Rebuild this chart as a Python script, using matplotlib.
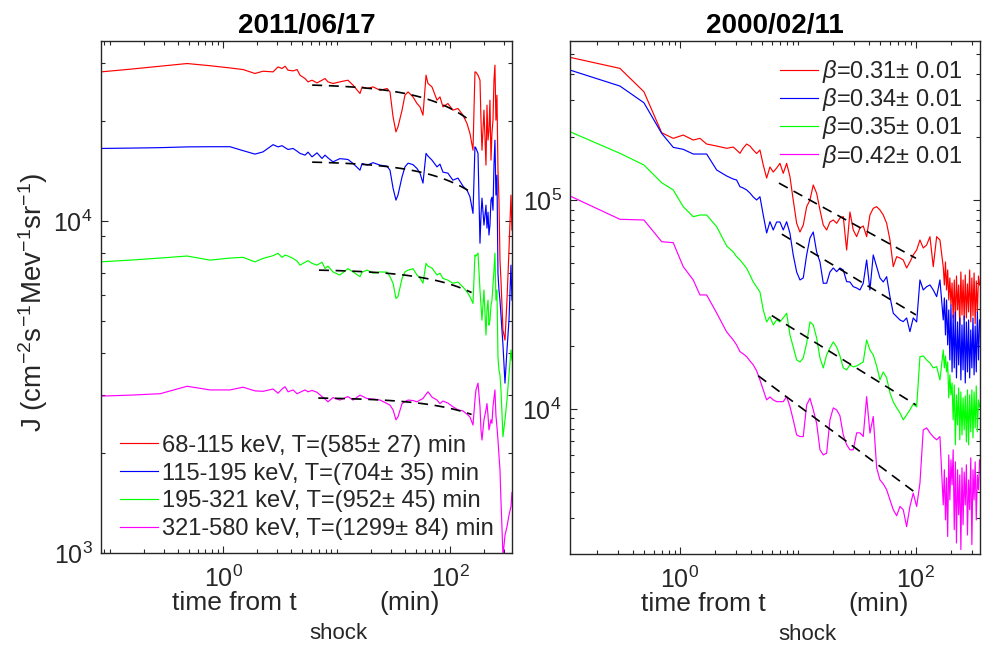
import numpy as np
import matplotlib
matplotlib.use("Agg")
import matplotlib.pyplot as plt
from matplotlib.ticker import FixedLocator, LogLocator, NullFormatter, LogFormatterSciNotation

plt.rcParams['font.family'] = ['Liberation Sans', 'DejaVu Sans']
plt.rcParams['mathtext.fontset'] = 'custom'
plt.rcParams['mathtext.rm'] = 'Liberation Sans'
plt.rcParams['mathtext.it'] = 'Liberation Sans:italic'
plt.rcParams['mathtext.bf'] = 'Liberation Sans:bold'

# ---------------- data: left panel (2011/06/17) ----------------
t_left = [0.084, 0.152, 0.279, 0.482, 0.768, 1.15, 1.50, 1.91, 2.25, 2.76,
          3.05, 3.31, 3.52, 3.74, 4.14, 4.49, 4.77, 5.28, 5.61, 6.08,
          6.73, 7.45, 7.92, 8.41, 9.31, 10.7, 12.6, 14.0, 16.1, 16.8,
          18.6, 21.0, 24.2, 27.9, 29.6, 31.5, 33.4, 34.8, 37.8, 40.1,
          42.7, 47.2, 51.2, 54.4, 57.8, 61.5, 64.0, 69.4, 76.8, 81.6,
          86.7, 95.9, 106, 117.6, 130.2, 141.2, 150, 159.5, 166, 169.4,
          176.6, 183.8, 187.6, 191.4, 199.3, 207.6, 211.9, 216.3, 220.6, 225,
          229.8, 234.4, 239.3, 244.2, 249, 254, 259.4, 264.8, 270.2, 275.8,
          281.4, 293.1, 305.3, 317.9, 331.1, 344.7, 351.8]

J_left_68 = [28170, 28700, 29300, 29850, 29400, 28950, 28630, 27860, 28300, 28170,
             29160, 28840, 29300, 28500, 28360, 28630, 27530, 26900, 26280, 26590,
             26100, 26590, 26900, 26280, 25990, 26280, 26590, 25680, 24250, 25380,
             25100, 25380, 24800, 25100, 24520, 20620, 18580, 19230, 21600, 23960,
             24520, 23680, 22620, 22100, 20860, 27530, 25990, 25380, 23150, 23680,
             22100, 22620, 21600, 21850, 20860, 19690, 18370, 16360, 28170, 28110,
             27530, 26590, 20150, 16360, 21600, 14750, 22360, 17540, 18800, 23150,
             15270, 18410, 20150, 26590, 29510, 20150, 23960, 14240, 11570, 7630,
             6640, 4695, 4380, 5780, 8180, 11980, 9400]
J_left_115 = [16560, 16600, 16650, 16740, 16760, 16760, 16310, 15920, 16170, 17000,
              16740, 16880, 16650, 16440, 16560, 16250, 16000, 15810, 16140, 15620,
              16060, 15450, 15810, 15510, 15090, 15430, 15340, 14920, 14240, 14920,
              14750, 15000, 14750, 14640, 14240, 12570, 11570, 11980, 13600, 14570,
              14950, 14800, 14410, 13950, 13020, 16000, 15700, 15270, 14570, 14850,
              14050, 13950, 13290, 13480, 12750, 12400, 11840, 10550, 16740, 16600,
              16000, 8580, 10420, 11730, 9730, 11170, 9530, 10640, 9080, 9730,
              11570, 11810, 10790, 14750, 17540, 11980, 13760, 6970, 6200, 5780,
              5210, 4230, 3250, 4090, 5030, 7370, 5780]
J_left_195 = [7540, 7630, 7740, 7850, 7630, 7740, 7780, 7540, 7720, 7870,
              8000, 7780, 7900, 7850, 7720, 7580, 7370, 7520, 7600, 7460,
              7370, 7520, 7200, 7320, 7030, 6880, 7190, 7030, 6800, 7020,
              7120, 6970, 7030, 7020, 6800, 6500, 5850, 5920, 6720, 7030,
              7120, 7190, 6880, 6740, 6500, 7460, 7320, 7220, 6880, 6970,
              6720, 6640, 6500, 6550, 6330, 6120, 5920, 5650, 7900, 7850,
              8010, 6200, 5580, 5030, 6200, 4540, 5390, 5780, 4860, 5030,
              5580, 5780, 6420, 7120, 8010, 5780, 6200, 3890, 3560, 3440,
              3100, 2240, 2520, 2890, 3440, 4090, 3810]
J_left_321 = [2970, 2990, 3020, 3180, 3100, 3100, 3160, 3080, 3070, 3120,
              3030, 3120, 3170, 3060, 3100, 3020, 3050, 3100, 3060, 3090,
              3050, 2960, 2910, 2855, 2940, 2890, 2960, 2890, 2990, 2970,
              2920, 2910, 2890, 2820, 2790, 2700, 2520, 2570, 2820, 2860,
              2890, 2880, 2855, 2890, 2920, 3010, 3060, 2950, 2890, 2820,
              2870, 2830, 2760, 2700, 2680, 2620, 2570, 2430, 2890, 3100,
              3250, 2760, 2350, 2190, 2520, 2700, 2820, 2600, 2350, 2430,
              2520, 2460, 2760, 2930, 3100, 2600, 2400, 2190, 1970, 1780,
              1440, 980, 1130, 1200, 1300, 1380, 1520]

labels_left = ['68-115 keV, T=(585\u00b1 27) min',
               '115-195 keV, T=(704\u00b1 35) min',
               '195-321 keV, T=(952\u00b1 45) min',
               '321-580 keV, T=(1299\u00b1 84) min']
# exponential fits  J = A exp(-t/T)
fit_A_left = [25970, 15190, 7170, 2946]
fit_T_left = [585, 704, 952, 1299]
fit_t0_left = [6.1, 6.1, 7.0, 6.9]
fit_t1_left = [155, 155, 155, 155]

# ---------------- data: right panel (2000/02/11) ----------------
t_right = [0.117, 0.310, 0.495, 0.700, 0.877, 1.066, 1.296, 1.477, 1.684, 2.047,
           2.488, 2.83, 3.02, 3.225, 3.44, 3.675, 3.92, 4.18, 4.467, 4.764,
           5.08, 5.43, 5.79, 6.177, 6.60, 7.04, 7.507, 8.02, 8.555, 9.12,
           9.75, 10.40, 11.09, 11.85, 12.64, 13.48, 14.40, 15.37, 16.39, 17.51,
           18.67, 19.92, 21.28, 22.70, 24.21, 25.86, 27.59, 29.42, 31.44, 33.53,
           35.76, 38.21, 40.74, 43.46, 46.45, 49.55, 52.84, 56.46, 60.22, 64.22,
           68.63, 73.19, 78.06, 83.37, 88.92, 94.85, 101.4, 108.1, 115.3, 123.2,
           131.4, 140.2, 149.8, 159.7,
           170.4, 174.1, 177.9, 181.7, 185.7, 189.7, 193.8, 198.0, 202.3, 206.7,
           211.2, 215.8, 220.5, 225.3, 230.2, 235.2, 240.3, 245.5, 250.8, 256.3,
           261.8, 267.5, 273.3, 279.2, 285.3, 291.5, 297.8, 304.3, 310.9, 317.6,
           324.5, 331.6, 338.8, 346.1]

J_right_1 = [481800, 426700, 329800, 209900, 197300, 204600, 193700, 197300, 185300, 181300,
             176800, 179300, 173500, 167300, 177400, 185300, 181300, 173500, 166900, 173500,
             147100, 127400, 143900, 136100, 142300, 149800, 134200, 149800, 129300, 100000,
             77360, 70280, 75890, 92890, 100000, 118000, 107700, 89570, 75890, 71850,
             78480, 80230, 77360, 82010, 83200, 57630, 87620, 71850, 66760, 73480,
             75110, 66760, 84760, 91260, 92890, 89570, 84760, 77360, 64360, 47970,
             53540, 52780, 51630, 47280, 50500, 54550, 57630, 64360, 58920, 60900,
             66760, 47970, 66760, 64360,
             47790, 39200, 50500, 37100, 46250, 33230, 42340, 31450, 40090, 27260,
             41430, 26080, 43280, 29770, 39200, 25230, 45230, 28170, 41430, 26660,
             43760, 27260, 39650, 29110, 46250, 26080, 42340, 27860, 44740, 25510,
             40980, 28790, 43280, 39200]
J_right_2 = [418800, 351200, 292100, 208500, 178700, 174800, 166000, 166000, 166000, 139200,
             130300, 126000, 124700, 115800, 114100, 111700, 108000, 103400, 100000, 103700,
             84760, 69520, 78730, 71850, 78480, 78480, 71850, 78730, 69290, 54550,
             45230, 41430, 42340, 54550, 65790, 70280, 56380, 50500, 39950, 39950,
             45230, 47280, 45380, 47280, 46250, 40660, 40520, 38470, 37920, 37100,
             39950, 51630, 37100, 54550, 47970, 42340, 40520, 42950, 34460, 28700,
             27640, 26660, 26170, 27260, 23430, 27260, 26080, 41430, 37100, 38470,
             39200, 37100, 34460, 41430,
             26660, 33980, 22590, 33230, 20240, 29770, 17150, 31450, 15030, 28170,
             15710, 29110, 14070, 26080, 16240, 27260, 13760, 25230, 15370, 27860,
             13310, 26080, 15030, 26660, 14070, 23880, 15710, 27260, 14550, 24950,
             15030, 29110, 17150, 26660]
J_right_3 = [212200, 167300, 147100, 121000, 111700, 92890, 83200, 84760, 84760, 74510,
             60240, 56380, 53540, 51630, 49410, 47120, 43760, 40520, 38350, 36280,
             29770, 26080, 27640, 25230, 26660, 26080, 27260, 28700, 22590, 19800,
             17150, 16780, 17540, 20620, 26080, 25230, 21860, 17540, 15710, 18130,
             19580, 20920, 19800, 17930, 15710, 15370, 16240, 15890, 16060, 16420,
             16780, 21380, 19150, 18130, 16060, 13760, 15030, 14070, 11930, 10800,
             10110, 9570, 8860, 9360, 9890, 10570, 10220, 17790, 17930, 17150,
             16600, 15710, 15940, 13760,
             19150, 15710, 17930, 15030, 16780, 11290, 14550, 11670, 13310, 8860,
             13020, 6730, 11670, 8380, 12600, 7110, 12060, 7510, 11290, 7930,
             11540, 6950, 12330, 6730, 11670, 7760, 12330, 7270, 12060, 8110,
             12880, 7760, 11040, 10220]
J_right_4 = [104500, 80850, 80230, 63160, 62460, 47970, 41430, 35110, 35110, 28790,
             23350, 21380, 20240, 18800, 18330, 17790, 16970, 16240, 15200, 13760,
             12330, 11040, 11410, 11040, 10830, 10830, 10830, 11450, 10260, 8860,
             7510, 7370, 7370, 10450, 11250, 9890, 8540, 6370, 6020, 6140,
             8860, 10110, 9890, 9260, 7510, 6730, 6370, 6370, 7680, 7680,
             7370, 11450, 7660, 9190, 5220, 4570, 4380, 4100, 3670, 3290,
             3080, 3410, 3290, 2730, 3410, 3950, 3410, 4410, 7930, 8110,
             7680, 7350, 7110, 7370,
             3470, 5110, 2940, 4680, 2450, 6020, 3670, 5700, 4330, 6370,
             2640, 5580, 2280, 5110, 3110, 4830, 2120, 5220, 2790, 4990,
             3470, 5400, 2490, 4570, 3290, 5830, 2240, 5110, 3670, 5580,
             2940, 4830, 4100, 5700]

labels_right = [r'$\beta$=0.31' + '\u00b1 0.01',
                r'$\beta$=0.34' + '\u00b1 0.01',
                r'$\beta$=0.35' + '\u00b1 0.01',
                r'$\beta$=0.42' + '\u00b1 0.01']
# power-law fits  J = A t^-beta
fit_A_right = [219300, 134900, 52380, 27360]
fit_beta_right = [0.31, 0.34, 0.35, 0.42]
fit_t0_right = [6.9, 7.3, 6.0, 4.6]
fit_t1_right = [100, 100, 100, 100]

colors = ['#ff0000', '#0000ff', '#00ff00', '#ff00ff']
dark = '#262626'

fig = plt.figure(figsize=(9.82, 6.45), dpi=100)
ax1 = fig.add_axes([101/982, 1-553/645, 411/982, 512/645])
ax2 = fig.add_axes([570/982, 1-554/645, 410/982, 513/645])

lw = 0.85
series_left = [J_left_68, J_left_115, J_left_195, J_left_321]
for J, c, lab in zip(series_left, colors, labels_left):
    ax1.plot(t_left, J, color=c, lw=lw, label=lab)
for A, T, t0, t1 in zip(fit_A_left, fit_T_left, fit_t0_left, fit_t1_left):
    tt = np.logspace(np.log10(t0), np.log10(t1), 100)
    ax1.plot(tt, A*np.exp(-tt/T), color='k', lw=1.2, ls=(0, (6, 4)))

series_right = [J_right_1, J_right_2, J_right_3, J_right_4]
for J, c, lab in zip(series_right, colors, labels_right):
    ax2.plot(t_right, J, color=c, lw=lw, label=lab)
for A, b, t0, t1 in zip(fit_A_right, fit_beta_right, fit_t0_right, fit_t1_right):
    tt = np.array([t0, t1])
    ax2.plot(tt, A*tt**(-b), color='k', lw=1.2, ls=(0, (6, 4)))

ax1.set_xlim(0.084, 352)
ax1.set_ylim(1000, 34900)
ax2.set_xlim(0.117, 349)
ax2.set_ylim(2020, 5.77e5)

for ax, yt in ((ax1, [1e3, 1e4]), (ax2, [1e4, 1e5])):
    ax.set_xscale('log')
    ax.set_yscale('log')
    ax.xaxis.set_major_locator(FixedLocator([1, 100]))
    ax.xaxis.set_minor_locator(LogLocator(base=10, subs=np.arange(1, 10), numticks=50))
    ax.yaxis.set_major_locator(FixedLocator(yt))
    ax.yaxis.set_minor_locator(LogLocator(base=10, subs=np.arange(1, 10), numticks=50))
    ax.xaxis.set_major_formatter(LogFormatterSciNotation())
    ax.yaxis.set_major_formatter(LogFormatterSciNotation())
    ax.xaxis.set_minor_formatter(NullFormatter())
    ax.yaxis.set_minor_formatter(NullFormatter())
    ax.tick_params(which='both', direction='in', top=True, right=True,
                   color=dark, labelcolor=dark, labelsize=18, width=0.8)
    ax.tick_params(which='major', length=5)
    ax.tick_params(which='minor', length=3)
    ax.tick_params(axis='x', which='major', pad=9)
    ax.tick_params(axis='y', which='major', pad=6)
    for s in ax.spines.values():
        s.set_color(dark)
        s.set_linewidth(1.0)
    # x label: "time from t_shock (min)" built from three pieces
    kw = dict(xycoords='axes fraction', textcoords='offset pixels',
              ha='left', va='baseline', color=dark, annotation_clip=False)
    ax.annotate('time from t', (0.5, 0), xytext=(-134, -57), fontsize=19, **kw)
    ax.annotate('shock', (0.5, 0), xytext=(3, -86), fontsize=16, **kw)
    ax.annotate('(min)', (0.5, 0), xytext=(73, -57), fontsize=19, **kw)

ax1.set_ylabel(r'J (cm$^{-2}$s$^{-1}$Mev$^{-1}$sr$^{-1}$)', fontsize=20, color=dark)
ax1.yaxis.set_label_coords(-0.124, 0.49)
ax1.set_title('2011/06/17', fontsize=20, fontweight='bold', pad=6)
ax2.set_title('2000/02/11', fontsize=20, fontweight='bold', pad=6)

ax1.legend(loc='center left', bbox_to_anchor=(0.046, 0.128), frameon=False,
           fontsize=17, handlelength=1.6, handletextpad=0.2, labelspacing=0.25,
           borderpad=0, borderaxespad=0, labelcolor=dark)
ax2.legend(loc='center left', bbox_to_anchor=(0.512, 0.858), frameon=False,
           fontsize=17, handlelength=1.6, handletextpad=0.2, labelspacing=0.05,
           borderpad=0, borderaxespad=0, labelcolor=dark)

fig.savefig('out.png', dpi=100)
